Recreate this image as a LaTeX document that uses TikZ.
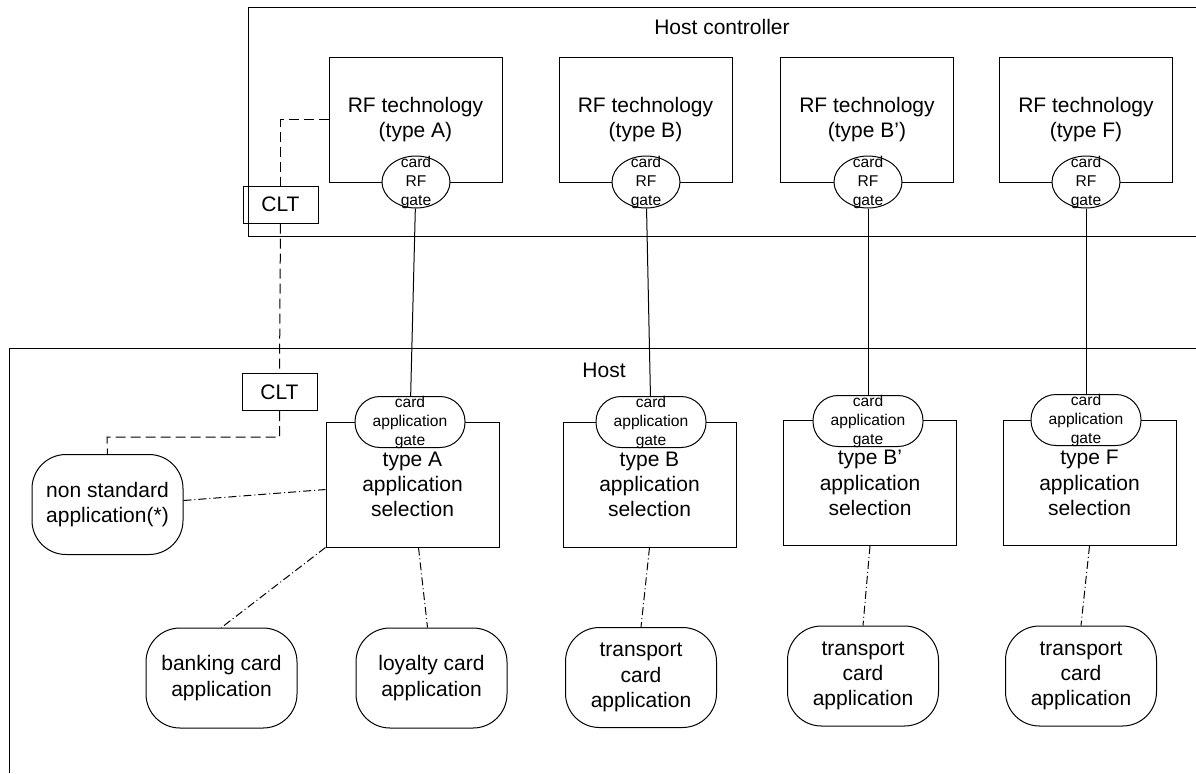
\documentclass[tikz,border=0pt]{standalone}
\usepackage{fontspec}
\setmainfont{Liberation Sans}
\usetikzlibrary{shapes.geometric,calc}

\begin{document}
\begin{tikzpicture}[x=0.5pt,y=-0.5pt,line width=0.5pt,
  every node/.style={font=\fontsize{10.5}{12.6}\selectfont,align=center,line width=0.5pt},
  rfbox/.style={draw,minimum width=86.5pt,minimum height=62.5pt,inner sep=0pt},
  appbox/.style={draw,minimum width=86.5pt,minimum height=62.5pt,inner sep=0pt},
  gatetext/.style={font=\fontsize{7.8}{9.5}\selectfont,inner sep=0pt},
  rfgate/.style={draw,ellipse,fill=white,minimum width=34pt,minimum height=26pt,inner sep=0pt},
  appgate/.style={draw,rounded corners=12.5pt,fill=white,minimum width=55pt,minimum height=25.5pt,inner sep=0pt},
  cltbox/.style={draw,minimum width=37.5pt,minimum height=18.5pt,inner sep=0pt},
  cardapp/.style={draw,rounded corners=17pt,minimum width=75.5pt,minimum height=50pt,inner sep=0pt},
  ctrl/.style={dash pattern=on 5pt off 2.5pt},
  assoc/.style={dash pattern=on 4pt off 1.5pt on 0.5pt off 1.5pt}]

\useasboundingbox (0,0) rectangle (1196,773);

% host controller and host areas
\draw (1196,7) -- (248,7) -- (248,236) -- (1196,236);
\draw (1196,348) -- (9,348) -- (9,773);
\node (hcTitle) at (722,27) {Host controller};
\node (hostTitle) at (604,370) {Host};

% RF technologies
\node[rfbox] (rfA) at (415.5,119.5) {RF technology\\(type A)};
\node[rfbox] (rfB) at (645.5,119.5) {RF technology\\(type B)};
\node[rfbox] (rfBp) at (867,119.5) {RF technology\\(type B')};
\node[rfbox] (rfF) at (1086,119.5) {RF technology\\(type F)};
\node[rfgate,label={[gatetext]center:card\\RF\\gate}] (gA) at (416,182) {};
\node[rfgate,label={[gatetext]center:card\\RF\\gate}] (gB) at (646,182) {};
\node[rfgate,label={[gatetext]center:card\\RF\\gate}] (gBp) at (868,182) {};
\node[rfgate,label={[gatetext]center:card\\RF\\gate}] (gF) at (1086,182) {};

% application selections
\node[appbox] (appA) at (412.5,484.5) {type A\\application\\selection};
\node[appbox] (appB) at (649.5,484.5) {type B\\application\\selection};
\node[appbox] (appBp) at (870,483) {type B'\\application\\selection};
\node[appbox] (appF) at (1089.5,483) {type F\\application\\selection};
\node[appgate,label={[gatetext]center:card\\application\\gate}] (agA) at (410,422) {};
\node[appgate,label={[gatetext]center:card\\application\\gate}] (agB) at (651,422) {};
\node[appgate,label={[gatetext]center:card\\application\\gate}] (agBp) at (868,421) {};
\node[appgate,label={[gatetext]center:card\\application\\gate}] (agF) at (1086,420) {};

% CLT
\node[cltbox] (cltU) at (280.5,204.5) {CLT};
\node[cltbox] (cltL) at (279.5,392) {CLT};

% card applications
\node[cardapp] (nonstd) at (107.5,504.5) {non standard\\application(*)};
\node[cardapp] (bank) at (221.5,678) {banking card\\application};
\node[cardapp] (loyal) at (431.5,678) {loyalty card\\application};
\node[cardapp] (trB) at (641,677.5) {transport\\card\\application};
\node[cardapp] (trBp) at (863,676) {transport\\card\\application};
\node[cardapp] (trF) at (1081,676) {transport\\card\\application};

% gate links
\draw (gA) -- (agA);
\draw (gB) -- (agB);
\draw (gBp) -- (agBp);
\draw (gF) -- (agF);

% CLT path
\coordinate (bend) at (107,437);
\draw[ctrl] (rfA.west) -| (cltU.north);
\draw[ctrl] (cltU.south) -- (cltL.north);
\draw[ctrl] (cltL.south) |- (bend) -- (nonstd.north);

% selection to applications
\draw[assoc] ([yshift=2pt]nonstd.east) -- ([yshift=-2.5pt]appA.west);
\draw[assoc] (appA.south west) -- (bank.north);
\draw[assoc] ([xshift=3pt]appA.south) -- ([xshift=-2pt]loyal.north);
\draw[assoc] (appB.south) -- (trB.north);
\draw[assoc] (appBp.south) -- (trBp.north);
\draw[assoc] (appF.south) -- (trF.north);
\end{tikzpicture}
\end{document}
